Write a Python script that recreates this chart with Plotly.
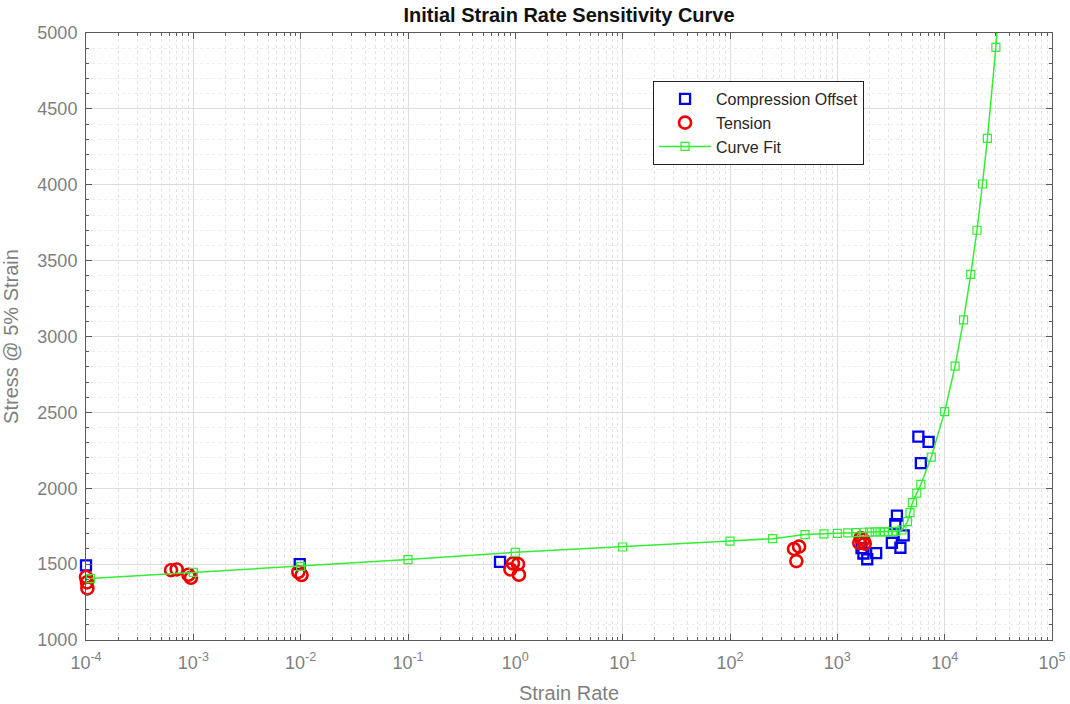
import plotly.graph_objects as go

# ---- data ----
comp_rate = [1.0e-4, 0.0098, 0.72, 1680, 1750, 1900, 2300, 3220, 3470, 3590, 3870, 4150, 5690, 6000, 7080]
comp_stress = [1492, 1500, 1515, 1605, 1570, 1532, 1572, 1641, 1764, 1820, 1608, 1690, 2340, 2165, 2305]

tens_rate = [0.95e-4, 1.0e-4, 1.03e-4, 1.02e-4, 6.2e-4, 7.0e-4, 9.0e-4, 9.5e-4,
             0.0095, 0.0102, 0.95, 1.06, 0.9, 1.08, 395, 440, 415, 1600, 1800, 1650, 1750]
tens_stress = [1400, 1415, 1340, 1380, 1460, 1465, 1430, 1410,
               1448, 1428, 1505, 1500, 1465, 1430, 1600, 1615, 1520, 1640, 1635, 1672, 1660]

fit_rate = [1.1e-4, 1e-3, 1e-2, 0.1, 1, 10, 100, 250, 500, 750, 1000, 1250, 1500, 1750,
            2000, 2250, 2500, 2750, 3000, 3250, 3500, 4000, 4500, 4750, 5000, 5500, 6000,
            7500, 10000, 12500, 15000, 17500, 20000, 22500, 25000, 30000, 35000]
fit_stress = [1405, 1445, 1485, 1530, 1578, 1613, 1652, 1668, 1695, 1700, 1703, 1706, 1707, 1710,
              1711, 1712, 1712, 1712, 1713, 1714, 1716, 1725, 1780, 1840, 1905, 1968, 2025,
              2205, 2505, 2805, 3110, 3410, 3700, 4005, 4305, 4905, 5600]

x_tickvals = [1e-4, 1e-3, 1e-2, 1e-1, 1, 10, 100, 1000, 1e4, 1e5]
x_ticktext = ["10<sup>-4</sup>", "10<sup>-3</sup>", "10<sup>-2</sup>", "10<sup>-1</sup>",
              "10<sup>0</sup>", "10<sup>1</sup>", "10<sup>2</sup>", "10<sup>3</sup>",
              "10<sup>4</sup>", "10<sup>5</sup>"]
y_tickvals = [1000, 1500, 2000, 2500, 3000, 3500, 4000, 4500, 5000]

FONT = "Liberation Sans, Arial, Helvetica, sans-serif"
AX = "#5a5a5a"
LBL = "#7f7f7f"

fig = go.Figure()
fig.add_trace(go.Scatter(
    x=comp_rate, y=comp_stress, mode="markers", name="Compression Offset",
    marker=dict(symbol="square-open", size=10, color="#0000ee", line=dict(width=2.3, color="#0000ee")),
    cliponaxis=False))
fig.add_trace(go.Scatter(
    x=tens_rate, y=tens_stress, mode="markers", name="Tension",
    marker=dict(symbol="circle-open", size=12, color="#ee0000", line=dict(width=2.6, color="#ee0000")),
    cliponaxis=False))
fig.add_trace(go.Scatter(
    x=fit_rate, y=fit_stress, mode="lines+markers", name="Curve Fit",
    line=dict(color="#33ee33", width=1.5),
    marker=dict(symbol="square-open", size=8, color="#33ee33", line=dict(width=1.2, color="#33ee33")),
    cliponaxis=True))

fig.update_layout(
    width=1070, height=704,
    margin=dict(l=86, r=18, t=33, b=64),
    paper_bgcolor="white", plot_bgcolor="white",
    font=dict(family=FONT, size=18, color=LBL),
    title=dict(text="<b>Initial Strain Rate Sensitivity Curve</b>", x=0.5318, xanchor="center",
               y=0.979, yanchor="middle", font=dict(family=FONT, size=20, color="#111111")),
    showlegend=True,
    legend=dict(x=0.587, y=0.921, xanchor="left", yanchor="top",
                bgcolor="white", bordercolor="#222222", borderwidth=1,
                font=dict(family=FONT, size=16, color="#262626"),
                itemwidth=52, tracegroupgap=0),
)

fig.update_xaxes(
    type="log", range=[-4, 5], automargin=False,
    tickvals=x_tickvals, ticktext=x_ticktext,
    showline=True, linecolor=AX, linewidth=1, mirror="ticks",
    ticks="inside", ticklen=6, tickcolor=AX, ticklabelstandoff=6,
    showgrid=True, gridcolor="#dedede", gridwidth=1,
    minor=dict(ticks="inside", ticklen=3, tickcolor=AX, showgrid=True,
               gridcolor="#e4e4e4", griddash="dot", dtick="D1"),
    zeroline=False,
    tickfont=dict(family=FONT, size=18, color=LBL),
    title=dict(text="Strain Rate", font=dict(family=FONT, size=20, color=LBL)),
)
fig.update_yaxes(
    range=[1000, 5000], tickvals=y_tickvals, automargin=False,
    showline=True, linecolor=AX, linewidth=1, mirror="ticks",
    ticks="inside", ticklen=6, tickcolor=AX, ticklabelstandoff=4,
    showgrid=True, gridcolor="#dedede", gridwidth=1,
    minor=dict(ticks="inside", ticklen=3, tickcolor=AX, showgrid=True,
               gridcolor="#ececec", griddash="dot", dtick=100),
    zeroline=False,
    tickfont=dict(family=FONT, size=18, color=LBL),
    title=dict(text="Stress @ 5% Strain", font=dict(family=FONT, size=20, color=LBL)),
)

fig.write_html("out.html")
